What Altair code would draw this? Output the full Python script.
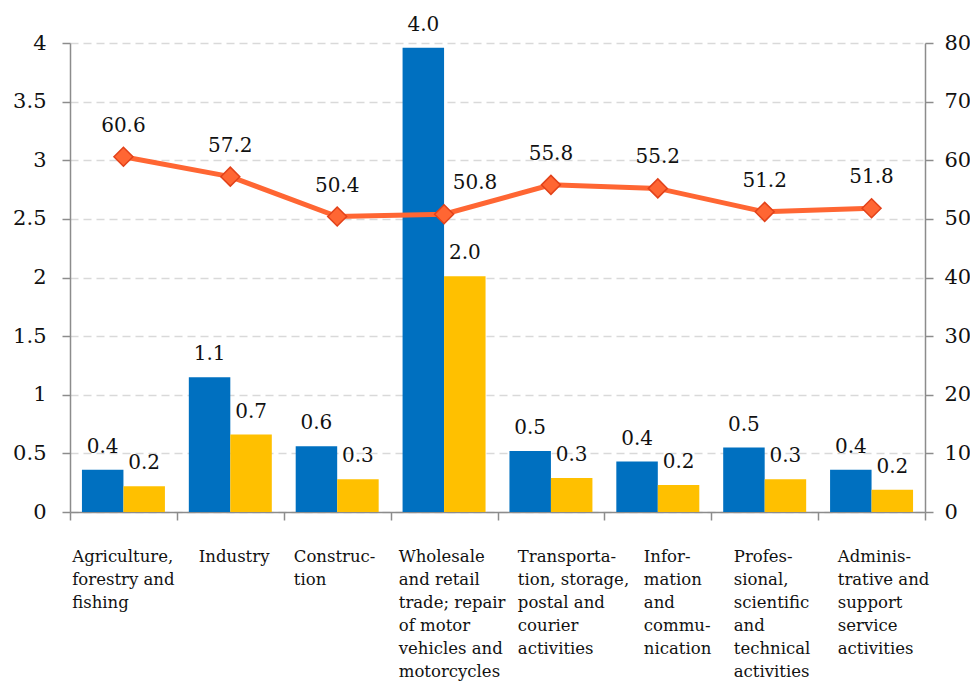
import json
import altair as alt
import pandas as pd

# ---------------- data ----------------
categories = [
    "Agriculture,|forestry and|fishing",
    "Industry",
    "Construc-|tion",
    "Wholesale|and retail|trade; repair|of motor|vehicles and|motorcycles",
    "Transporta-|tion, storage,|postal and|courier|activities",
    "Infor-|mation|and|commu-|nication",
    "Profes-|sional,|scientific|and|technical|activities",
    "Adminis-|trative and|support|service|activities",
]
series_names = ["Series 1", "Series 2"]
bar_values_1 = [0.36, 1.15, 0.56, 3.96, 0.52, 0.43, 0.55, 0.36]
bar_values_2 = [0.22, 0.66, 0.28, 2.01, 0.29, 0.23, 0.28, 0.19]
bar_labels_1 = ["0.4", "1.1", "0.6", "4.0", "0.5", "0.4", "0.5", "0.4"]
bar_labels_2 = ["0.2", "0.7", "0.3", "2.0", "0.3", "0.2", "0.3", "0.2"]
line_values = [60.6, 57.2, 50.4, 50.8, 55.8, 55.2, 51.2, 51.8]
line_labels = ["60.6", "57.2", "50.4", "50.8", "55.8", "55.2", "51.2", "51.8"]
left_ticks = [0, 0.5, 1, 1.5, 2, 2.5, 3, 3.5, 4]
right_ticks = [0, 10, 20, 30, 40, 50, 60, 70, 80]

# ---------------- styles ----------------
FONT = "DejaVu Serif"
BLUE = "#0070C0"
YELLOW = "#FFC000"
LINE = "#FF6633"
MARK_STROKE = "#E2421A"
AXIS_GREY = "#8C8C8C"
TEXT = "#111111"
# horizontal shift of each category label block (left-aligned lines)
label_shift = [-51.7, -32.0, -43.9, -45.8, -33.6, -14.5, -31.4, -34.3]

bars_df = pd.DataFrame({
    "category": categories * 2,
    "series": [series_names[0]] * len(categories) + [series_names[1]] * len(categories),
    "value": bar_values_1 + bar_values_2,
    "label": bar_labels_1 + bar_labels_2,
})
line_df = pd.DataFrame({
    "category": categories,
    "rate": line_values,
    "label": line_labels,
})

shift_expr = ""
for c, s in zip(categories[:-1], label_shift[:-1]):
    shift_expr += f"datum.value == {json.dumps(c)} ? {s} : "
shift_expr += str(label_shift[-1])

x_axis = alt.Axis(
    title=None,
    tickBand="extent",
    grid=False,
    labelAngle=0,
    labelAlign="left",
    labelBaseline="top",
    labelFont=FONT,
    labelFontSize=16.5,
    labelLineHeight=23,
    labelColor=TEXT,
    labelPadding=28,
    labelExpr="split(datum.label, '|')",
    labelOffset={"expr": shift_expr},
    labelOverlap=False,
    labelLimit=0,
    domainColor=AXIS_GREY,
    domainWidth=1.5,
    tickColor=AXIS_GREY,
    tickWidth=1.5,
    tickSize=8,
)
x_enc = alt.X(
    "category:N",
    sort=categories,
    scale=alt.Scale(domain=categories, paddingInner=0, paddingOuter=0),
    axis=x_axis,
)
xoff_enc = alt.XOffset(
    "series:N",
    sort=series_names,
    scale=alt.Scale(domain=series_names, paddingInner=0, paddingOuter=0.288),
)

left_axis = alt.Axis(
    title=None,
    orient="left",
    values=left_ticks,
    format="~g",
    grid=True,
    gridColor="#D9D9D9",
    gridDash=[8, 5],
    gridWidth=1.5,
    labelFont=FONT,
    labelFontSize=21,
    labelColor=TEXT,
    labelPadding=16,
    domainColor=AXIS_GREY,
    domainWidth=1.5,
    tickColor=AXIS_GREY,
    tickWidth=1.5,
    tickSize=8,
)
right_axis = alt.Axis(
    title=None,
    orient="right",
    values=right_ticks,
    format="d",
    grid=False,
    labelFont=FONT,
    labelFontSize=21,
    labelColor=TEXT,
    labelPadding=11,
    domainColor=AXIS_GREY,
    domainWidth=1.5,
    tickColor=AXIS_GREY,
    tickWidth=1.5,
    tickSize=8,
)
y_left = alt.Y("value:Q", scale=alt.Scale(domain=[0, 4], nice=False, zero=True), axis=left_axis)
y_right = alt.Y("rate:Q", scale=alt.Scale(domain=[0, 80], nice=False, zero=True), axis=right_axis)

bars = alt.Chart(bars_df).mark_bar().encode(
    x=x_enc,
    xOffset=xoff_enc,
    y=y_left,
    color=alt.Color("series:N", scale=alt.Scale(domain=series_names, range=[BLUE, YELLOW]), legend=None),
)
bar_text = alt.Chart(bars_df).mark_text(
    font=FONT, fontSize=20, color=TEXT, baseline="alphabetic", dy=-17
).encode(x=x_enc, xOffset=xoff_enc, y=y_left, text="label:N")

left_layer = alt.layer(bars, bar_text)

line = alt.Chart(line_df).mark_line(color=LINE, strokeWidth=5).encode(x=x_enc, y=y_right)
points = alt.Chart(line_df).mark_point(
    shape="diamond", filled=True, size=360, fill=LINE, stroke=MARK_STROKE, strokeWidth=1.5, opacity=1
).encode(x=x_enc, y=y_right)
line_text = alt.Chart(line_df).transform_filter(
    alt.datum.category != categories[3]
).mark_text(font=FONT, fontSize=20, color=TEXT, baseline="alphabetic", dy=-25).encode(
    x=x_enc, y=y_right, text="label:N"
)
line_text_shifted = alt.Chart(line_df).transform_filter(
    alt.datum.category == categories[3]
).mark_text(font=FONT, fontSize=20, color=TEXT, baseline="alphabetic", dy=-25, dx=31).encode(
    x=x_enc, y=y_right, text="label:N"
)
right_layer = alt.layer(line, points, line_text, line_text_shifted)

chart = alt.layer(left_layer, right_layer).resolve_scale(y="independent").properties(
    width=855,
    height=469,
    autosize=alt.AutoSizeParams(type="none"),
    padding={"left": 62, "top": 35, "right": 45, "bottom": 170},
    background="white",
).configure_view(stroke=None)

chart.save("out.html", embed_options={"renderer": "svg", "actions": False})
